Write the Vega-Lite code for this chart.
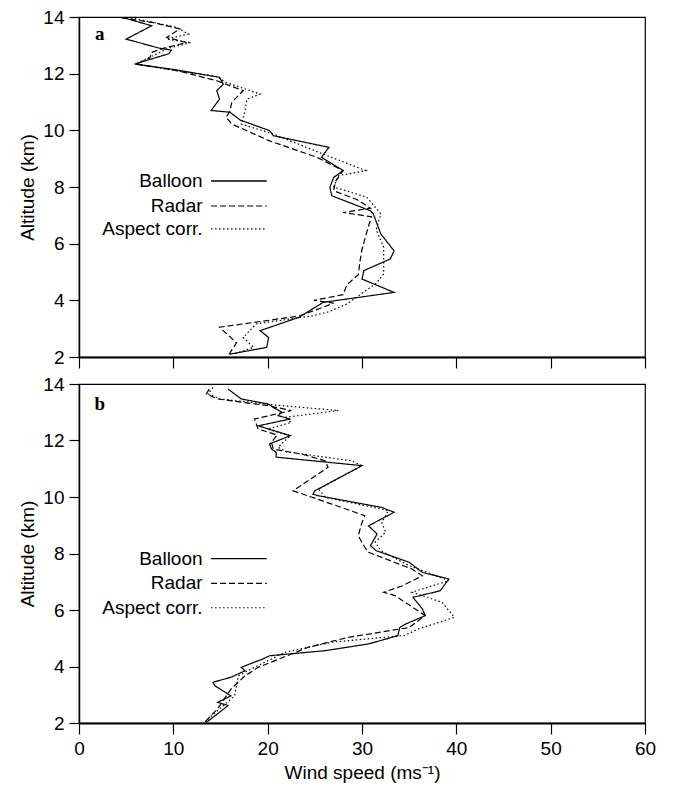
{
  "$schema": "https://vega.github.io/schema/vega-lite/v6.json",
  "padding": {"left": 18, "top": 7, "right": 5, "bottom": 2},
  "background": "white",
  "config": {
    "view": {"stroke": "black", "strokeWidth": 1.2},
    "font": "Liberation Sans",
    "axis": {
      "domainColor": "black", "domainWidth": 1.5, "tickColor": "black", "tickWidth": 1.2,
      "labelColor": "black", "titleColor": "black",
      "labelFont": "Liberation Sans", "titleFont": "Liberation Sans",
      "labelFontSize": 19, "titleFontSize": 19, "titleFontWeight": "normal",
      "grid": false, "labelFlush": false, "labelOverlap": false
    }
  },
  "datasets": {
    "profiles": [
      {"panel":"a","series":"Balloon","alt":13.97,"speed":4.8},
      {"panel":"a","series":"Balloon","alt":13.69,"speed":7.7},
      {"panel":"a","series":"Balloon","alt":13.22,"speed":5.0},
      {"panel":"a","series":"Balloon","alt":12.90,"speed":8.5},
      {"panel":"a","series":"Balloon","alt":12.83,"speed":9.8},
      {"panel":"a","series":"Balloon","alt":12.70,"speed":9.5},
      {"panel":"a","series":"Balloon","alt":12.34,"speed":5.9},
      {"panel":"a","series":"Balloon","alt":12.15,"speed":10.0},
      {"panel":"a","series":"Balloon","alt":11.87,"speed":14.9},
      {"panel":"a","series":"Balloon","alt":11.63,"speed":15.3},
      {"panel":"a","series":"Balloon","alt":11.40,"speed":14.6},
      {"panel":"a","series":"Balloon","alt":11.10,"speed":14.9},
      {"panel":"a","series":"Balloon","alt":10.70,"speed":14.0},
      {"panel":"a","series":"Balloon","alt":10.64,"speed":16.0},
      {"panel":"a","series":"Balloon","alt":10.36,"speed":17.1},
      {"panel":"a","series":"Balloon","alt":9.99,"speed":20.2},
      {"panel":"a","series":"Balloon","alt":9.81,"speed":20.6},
      {"panel":"a","series":"Balloon","alt":9.40,"speed":26.5},
      {"panel":"a","series":"Balloon","alt":9.05,"speed":25.7},
      {"panel":"a","series":"Balloon","alt":8.58,"speed":28.0},
      {"panel":"a","series":"Balloon","alt":8.34,"speed":27.0},
      {"panel":"a","series":"Balloon","alt":7.99,"speed":26.6},
      {"panel":"a","series":"Balloon","alt":7.69,"speed":26.8},
      {"panel":"a","series":"Balloon","alt":7.16,"speed":30.9},
      {"panel":"a","series":"Balloon","alt":7.05,"speed":31.2},
      {"panel":"a","series":"Balloon","alt":6.34,"speed":32.0},
      {"panel":"a","series":"Balloon","alt":5.75,"speed":33.4},
      {"panel":"a","series":"Balloon","alt":5.46,"speed":33.0},
      {"panel":"a","series":"Balloon","alt":5.05,"speed":30.2},
      {"panel":"a","series":"Balloon","alt":4.75,"speed":30.0},
      {"panel":"a","series":"Balloon","alt":4.28,"speed":33.4},
      {"panel":"a","series":"Balloon","alt":3.93,"speed":25.9},
      {"panel":"a","series":"Balloon","alt":3.40,"speed":23.3},
      {"panel":"a","series":"Balloon","alt":2.93,"speed":19.2},
      {"panel":"a","series":"Balloon","alt":2.69,"speed":20.1},
      {"panel":"a","series":"Balloon","alt":2.34,"speed":19.9},
      {"panel":"a","series":"Balloon","alt":2.10,"speed":16.0},

      {"panel":"a","series":"Radar","alt":13.97,"speed":4.5},
      {"panel":"a","series":"Radar","alt":13.80,"speed":7.9},
      {"panel":"a","series":"Radar","alt":13.58,"speed":10.7},
      {"panel":"a","series":"Radar","alt":13.28,"speed":9.3},
      {"panel":"a","series":"Radar","alt":13.10,"speed":11.4},
      {"panel":"a","series":"Radar","alt":12.90,"speed":9.0},
      {"panel":"a","series":"Radar","alt":12.75,"speed":7.7},
      {"panel":"a","series":"Radar","alt":12.55,"speed":7.5},
      {"panel":"a","series":"Radar","alt":12.34,"speed":6.1},
      {"panel":"a","series":"Radar","alt":12.10,"speed":10.5},
      {"panel":"a","series":"Radar","alt":11.75,"speed":14.6},
      {"panel":"a","series":"Radar","alt":11.40,"speed":17.4},
      {"panel":"a","series":"Radar","alt":10.99,"speed":16.2},
      {"panel":"a","series":"Radar","alt":10.69,"speed":16.0},
      {"panel":"a","series":"Radar","alt":10.46,"speed":15.6},
      {"panel":"a","series":"Radar","alt":10.22,"speed":16.2},
      {"panel":"a","series":"Radar","alt":9.63,"speed":20.2},
      {"panel":"a","series":"Radar","alt":9.05,"speed":25.2},
      {"panel":"a","series":"Radar","alt":8.58,"speed":28.0},
      {"panel":"a","series":"Radar","alt":8.20,"speed":27.2},
      {"panel":"a","series":"Radar","alt":7.87,"speed":27.0},
      {"panel":"a","series":"Radar","alt":7.55,"speed":29.5},
      {"panel":"a","series":"Radar","alt":7.25,"speed":30.9},
      {"panel":"a","series":"Radar","alt":7.10,"speed":28.0},
      {"panel":"a","series":"Radar","alt":6.95,"speed":31.0},
      {"panel":"a","series":"Radar","alt":6.40,"speed":30.5},
      {"panel":"a","series":"Radar","alt":5.80,"speed":30.0},
      {"panel":"a","series":"Radar","alt":5.40,"speed":29.8},
      {"panel":"a","series":"Radar","alt":4.90,"speed":29.6},
      {"panel":"a","series":"Radar","alt":4.55,"speed":28.4},
      {"panel":"a","series":"Radar","alt":4.20,"speed":28.0},
      {"panel":"a","series":"Radar","alt":4.00,"speed":24.9},
      {"panel":"a","series":"Radar","alt":3.90,"speed":27.0},
      {"panel":"a","series":"Radar","alt":3.45,"speed":23.4},
      {"panel":"a","series":"Radar","alt":3.05,"speed":14.9},
      {"panel":"a","series":"Radar","alt":2.50,"speed":16.7},
      {"panel":"a","series":"Radar","alt":2.04,"speed":15.8},

      {"panel":"a","series":"Aspect corr.","alt":13.97,"speed":5.5},
      {"panel":"a","series":"Aspect corr.","alt":13.64,"speed":10.3},
      {"panel":"a","series":"Aspect corr.","alt":13.40,"speed":11.6},
      {"panel":"a","series":"Aspect corr.","alt":13.22,"speed":9.3},
      {"panel":"a","series":"Aspect corr.","alt":13.10,"speed":11.9},
      {"panel":"a","series":"Aspect corr.","alt":12.90,"speed":9.5},
      {"panel":"a","series":"Aspect corr.","alt":12.34,"speed":6.0},
      {"panel":"a","series":"Aspect corr.","alt":12.10,"speed":10.5},
      {"panel":"a","series":"Aspect corr.","alt":11.90,"speed":14.6},
      {"panel":"a","series":"Aspect corr.","alt":11.69,"speed":15.6},
      {"panel":"a","series":"Aspect corr.","alt":11.28,"speed":19.2},
      {"panel":"a","series":"Aspect corr.","alt":11.10,"speed":17.8},
      {"panel":"a","series":"Aspect corr.","alt":10.69,"speed":17.6},
      {"panel":"a","series":"Aspect corr.","alt":10.22,"speed":17.2},
      {"panel":"a","series":"Aspect corr.","alt":9.87,"speed":20.6},
      {"panel":"a","series":"Aspect corr.","alt":9.16,"speed":25.9},
      {"panel":"a","series":"Aspect corr.","alt":8.58,"speed":30.4},
      {"panel":"a","series":"Aspect corr.","alt":8.40,"speed":27.5},
      {"panel":"a","series":"Aspect corr.","alt":8.00,"speed":27.0},
      {"panel":"a","series":"Aspect corr.","alt":7.64,"speed":30.5},
      {"panel":"a","series":"Aspect corr.","alt":7.05,"speed":32.0},
      {"panel":"a","series":"Aspect corr.","alt":6.50,"speed":31.5},
      {"panel":"a","series":"Aspect corr.","alt":5.87,"speed":32.3},
      {"panel":"a","series":"Aspect corr.","alt":4.93,"speed":32.3},
      {"panel":"a","series":"Aspect corr.","alt":4.60,"speed":31.5},
      {"panel":"a","series":"Aspect corr.","alt":3.87,"speed":28.4},
      {"panel":"a","series":"Aspect corr.","alt":3.60,"speed":26.5},
      {"panel":"a","series":"Aspect corr.","alt":3.46,"speed":24.9},
      {"panel":"a","series":"Aspect corr.","alt":3.17,"speed":18.8},
      {"panel":"a","series":"Aspect corr.","alt":2.69,"speed":17.4},
      {"panel":"a","series":"Aspect corr.","alt":2.34,"speed":18.5},
      {"panel":"a","series":"Aspect corr.","alt":2.10,"speed":16.4},

      {"panel":"b","series":"Balloon","alt":13.82,"speed":15.8},
      {"panel":"b","series":"Balloon","alt":13.47,"speed":17.2},
      {"panel":"b","series":"Balloon","alt":13.29,"speed":20.1},
      {"panel":"b","series":"Balloon","alt":13.17,"speed":20.6},
      {"panel":"b","series":"Balloon","alt":13.00,"speed":21.5},
      {"panel":"b","series":"Balloon","alt":12.88,"speed":21.1},
      {"panel":"b","series":"Balloon","alt":12.76,"speed":22.4},
      {"panel":"b","series":"Balloon","alt":12.52,"speed":19.0},
      {"panel":"b","series":"Balloon","alt":12.17,"speed":22.4},
      {"panel":"b","series":"Balloon","alt":11.88,"speed":20.2},
      {"panel":"b","series":"Balloon","alt":11.70,"speed":20.4},
      {"panel":"b","series":"Balloon","alt":11.58,"speed":20.9},
      {"panel":"b","series":"Balloon","alt":11.41,"speed":20.9},
      {"panel":"b","series":"Balloon","alt":11.11,"speed":30.0},
      {"panel":"b","series":"Balloon","alt":10.22,"speed":25.0},
      {"panel":"b","series":"Balloon","alt":10.10,"speed":24.8},
      {"panel":"b","series":"Balloon","alt":10.05,"speed":25.3},
      {"panel":"b","series":"Balloon","alt":9.63,"speed":32.1},
      {"panel":"b","series":"Balloon","alt":9.46,"speed":33.4},
      {"panel":"b","series":"Balloon","alt":8.98,"speed":30.7},
      {"panel":"b","series":"Balloon","alt":8.69,"speed":31.6},
      {"panel":"b","series":"Balloon","alt":8.28,"speed":30.9},
      {"panel":"b","series":"Balloon","alt":8.10,"speed":31.5},
      {"panel":"b","series":"Balloon","alt":7.69,"speed":35.0},
      {"panel":"b","series":"Balloon","alt":7.33,"speed":36.4},
      {"panel":"b","series":"Balloon","alt":7.10,"speed":39.2},
      {"panel":"b","series":"Balloon","alt":6.68,"speed":38.3},
      {"panel":"b","series":"Balloon","alt":6.45,"speed":35.4},
      {"panel":"b","series":"Balloon","alt":6.04,"speed":36.4},
      {"panel":"b","series":"Balloon","alt":5.80,"speed":36.7},
      {"panel":"b","series":"Balloon","alt":5.50,"speed":34.6},
      {"panel":"b","series":"Balloon","alt":5.38,"speed":34.0},
      {"panel":"b","series":"Balloon","alt":5.09,"speed":33.8},
      {"panel":"b","series":"Balloon","alt":4.80,"speed":30.7},
      {"panel":"b","series":"Balloon","alt":4.56,"speed":26.1},
      {"panel":"b","series":"Balloon","alt":4.38,"speed":20.2},
      {"panel":"b","series":"Balloon","alt":4.27,"speed":19.5},
      {"panel":"b","series":"Balloon","alt":3.97,"speed":17.2},
      {"panel":"b","series":"Balloon","alt":3.85,"speed":17.6},
      {"panel":"b","series":"Balloon","alt":3.62,"speed":16.1},
      {"panel":"b","series":"Balloon","alt":3.44,"speed":14.2},
      {"panel":"b","series":"Balloon","alt":3.32,"speed":14.4},
      {"panel":"b","series":"Balloon","alt":2.96,"speed":16.1},
      {"panel":"b","series":"Balloon","alt":2.73,"speed":14.7},
      {"panel":"b","series":"Balloon","alt":2.62,"speed":15.8},
      {"panel":"b","series":"Balloon","alt":2.38,"speed":14.9},
      {"panel":"b","series":"Balloon","alt":2.02,"speed":13.5},

      {"panel":"b","series":"Radar","alt":13.82,"speed":13.8},
      {"panel":"b","series":"Radar","alt":13.65,"speed":13.5},
      {"panel":"b","series":"Radar","alt":13.47,"speed":14.7},
      {"panel":"b","series":"Radar","alt":13.23,"speed":20.1},
      {"panel":"b","series":"Radar","alt":13.06,"speed":22.5},
      {"panel":"b","series":"Radar","alt":12.76,"speed":18.6},
      {"panel":"b","series":"Radar","alt":12.40,"speed":19.0},
      {"panel":"b","series":"Radar","alt":12.20,"speed":21.0},
      {"panel":"b","series":"Radar","alt":11.93,"speed":20.4},
      {"panel":"b","series":"Radar","alt":11.70,"speed":20.6},
      {"panel":"b","series":"Radar","alt":11.64,"speed":21.5},
      {"panel":"b","series":"Radar","alt":11.52,"speed":23.6},
      {"panel":"b","series":"Radar","alt":11.28,"speed":26.1},
      {"panel":"b","series":"Radar","alt":11.05,"speed":26.4},
      {"panel":"b","series":"Radar","alt":10.22,"speed":22.7},
      {"panel":"b","series":"Radar","alt":9.75,"speed":26.8},
      {"panel":"b","series":"Radar","alt":9.34,"speed":30.3},
      {"panel":"b","series":"Radar","alt":9.10,"speed":30.0},
      {"panel":"b","series":"Radar","alt":8.63,"speed":29.6},
      {"panel":"b","series":"Radar","alt":8.22,"speed":30.3},
      {"panel":"b","series":"Radar","alt":8.04,"speed":30.7},
      {"panel":"b","series":"Radar","alt":7.45,"speed":35.3},
      {"panel":"b","series":"Radar","alt":7.21,"speed":36.4},
      {"panel":"b","series":"Radar","alt":6.86,"speed":34.3},
      {"panel":"b","series":"Radar","alt":6.63,"speed":32.3},
      {"panel":"b","series":"Radar","alt":6.51,"speed":33.5},
      {"panel":"b","series":"Radar","alt":5.80,"speed":36.7},
      {"panel":"b","series":"Radar","alt":5.38,"speed":35.0},
      {"panel":"b","series":"Radar","alt":5.03,"speed":28.5},
      {"panel":"b","series":"Radar","alt":4.68,"speed":24.3},
      {"panel":"b","series":"Radar","alt":3.97,"speed":19.0},
      {"panel":"b","series":"Radar","alt":3.67,"speed":17.6},
      {"panel":"b","series":"Radar","alt":3.20,"speed":16.1},
      {"panel":"b","series":"Radar","alt":2.50,"speed":14.7},
      {"panel":"b","series":"Radar","alt":2.02,"speed":13.3},

      {"panel":"b","series":"Aspect corr.","alt":13.88,"speed":14.2},
      {"panel":"b","series":"Aspect corr.","alt":13.65,"speed":13.7},
      {"panel":"b","series":"Aspect corr.","alt":13.47,"speed":15.0},
      {"panel":"b","series":"Aspect corr.","alt":13.25,"speed":21.0},
      {"panel":"b","series":"Aspect corr.","alt":13.06,"speed":27.5},
      {"panel":"b","series":"Aspect corr.","alt":12.82,"speed":21.8},
      {"panel":"b","series":"Aspect corr.","alt":12.64,"speed":22.5},
      {"panel":"b","series":"Aspect corr.","alt":12.40,"speed":20.0},
      {"panel":"b","series":"Aspect corr.","alt":12.17,"speed":22.4},
      {"panel":"b","series":"Aspect corr.","alt":11.76,"speed":21.1},
      {"panel":"b","series":"Aspect corr.","alt":11.60,"speed":22.0},
      {"panel":"b","series":"Aspect corr.","alt":11.28,"speed":28.9},
      {"panel":"b","series":"Aspect corr.","alt":11.11,"speed":30.0},
      {"panel":"b","series":"Aspect corr.","alt":10.28,"speed":25.4},
      {"panel":"b","series":"Aspect corr.","alt":9.99,"speed":26.1},
      {"panel":"b","series":"Aspect corr.","alt":9.52,"speed":32.8},
      {"panel":"b","series":"Aspect corr.","alt":9.10,"speed":32.1},
      {"panel":"b","series":"Aspect corr.","alt":8.75,"speed":32.5},
      {"panel":"b","series":"Aspect corr.","alt":8.40,"speed":31.4},
      {"panel":"b","series":"Aspect corr.","alt":8.10,"speed":32.0},
      {"panel":"b","series":"Aspect corr.","alt":7.57,"speed":35.0},
      {"panel":"b","series":"Aspect corr.","alt":7.04,"speed":39.2},
      {"panel":"b","series":"Aspect corr.","alt":6.63,"speed":35.3},
      {"panel":"b","series":"Aspect corr.","alt":6.27,"speed":38.5},
      {"panel":"b","series":"Aspect corr.","alt":5.74,"speed":39.8},
      {"panel":"b","series":"Aspect corr.","alt":5.33,"speed":36.0},
      {"panel":"b","series":"Aspect corr.","alt":5.10,"speed":34.5},
      {"panel":"b","series":"Aspect corr.","alt":4.86,"speed":26.8},
      {"panel":"b","series":"Aspect corr.","alt":4.50,"speed":21.8},
      {"panel":"b","series":"Aspect corr.","alt":3.97,"speed":18.6},
      {"panel":"b","series":"Aspect corr.","alt":3.67,"speed":16.9},
      {"panel":"b","series":"Aspect corr.","alt":2.96,"speed":16.5},
      {"panel":"b","series":"Aspect corr.","alt":2.24,"speed":14.0},
      {"panel":"b","series":"Aspect corr.","alt":2.02,"speed":13.3}
    ]
  },
  "bounds": "flush",
  "spacing": 27,
  "vconcat": [
    {
      "width": 566, "height": 340,
      "layer": [
        {
          "data": {"name": "profiles"},
          "transform": [{"filter": "datum.panel === 'a'"}],
          "mark": {"type": "line", "color": "black", "strokeWidth": 1.2, "clip": true},
          "encoding": {
            "x": {"field": "speed", "type": "quantitative", "scale": {"domain": [0, 60], "nice": false},
                  "axis": {"values": [0,10,20,30,40,50,60], "labels": false, "title": null, "tickSize": 11, "domainWidth": 2.2}},
            "y": {"field": "alt", "type": "quantitative", "scale": {"domain": [2, 14], "nice": false, "zero": false},
                  "axis": {"values": [2,4,6,8,10,12,14], "title": "Altitude (km)", "tickSize": 10, "labelPadding": 5, "titlePadding": 5}},
            "strokeDash": {"field": "series", "type": "nominal",
                           "scale": {"domain": ["Balloon","Radar","Aspect corr."], "range": [[1,0],[6,3],[1.5,2.5]]},
                           "legend": null},
            "order": {"field": "alt", "sort": "descending"}
          }
        },
        {"data": {"values": [{}]}, "mark": {"type": "text", "text": "a", "font": "Liberation Serif", "fontWeight": "bold", "fontSize": 19, "align": "center", "baseline": "middle"},
         "encoding": {"x": {"datum": 2.2}, "y": {"datum": 13.4}}},
        {"data": {"values": [{}]}, "mark": {"type": "text", "text": "Balloon", "fontSize": 19, "align": "right", "baseline": "middle"},
         "encoding": {"x": {"datum": 13.1}, "y": {"datum": 8.21}}},
        {"data": {"values": [{}]}, "mark": {"type": "text", "text": "Radar", "fontSize": 19, "align": "right", "baseline": "middle"},
         "encoding": {"x": {"datum": 13.1}, "y": {"datum": 7.33}}},
        {"data": {"values": [{}]}, "mark": {"type": "text", "text": "Aspect corr.", "fontSize": 19, "align": "right", "baseline": "middle"},
         "encoding": {"x": {"datum": 13.1}, "y": {"datum": 6.52}}},
        {"data": {"values": [{}]}, "mark": {"type": "rule", "color": "black", "strokeWidth": 1.4},
         "encoding": {"x": {"datum": 14.0}, "x2": {"datum": 19.9}, "y": {"datum": 8.21}}},
        {"data": {"values": [{}]}, "mark": {"type": "rule", "color": "black", "strokeWidth": 1.2, "strokeDash": [6, 3]},
         "encoding": {"x": {"datum": 14.0}, "x2": {"datum": 19.9}, "y": {"datum": 7.33}}},
        {"data": {"values": [{}]}, "mark": {"type": "rule", "color": "black", "strokeWidth": 1.2, "strokeDash": [1.5, 2.5]},
         "encoding": {"x": {"datum": 14.0}, "x2": {"datum": 19.9}, "y": {"datum": 6.52}}}
      ]
    },
    {
      "width": 566, "height": 339,
      "layer": [
        {
          "data": {"name": "profiles"},
          "transform": [{"filter": "datum.panel === 'b'"}],
          "mark": {"type": "line", "color": "black", "strokeWidth": 1.2, "clip": true},
          "encoding": {
            "x": {"field": "speed", "type": "quantitative", "scale": {"domain": [0, 60], "nice": false},
                  "axis": {"values": [0,10,20,30,40,50,60], "title": "Wind speed (ms⁻¹)", "tickSize": 11, "labelPadding": 5, "titlePadding": 5, "domainWidth": 2.2}},
            "y": {"field": "alt", "type": "quantitative", "scale": {"domain": [2, 14], "nice": false, "zero": false},
                  "axis": {"values": [2,4,6,8,10,12,14], "title": "Altitude (km)", "tickSize": 10, "labelPadding": 5, "titlePadding": 5}},
            "strokeDash": {"field": "series", "type": "nominal",
                           "scale": {"domain": ["Balloon","Radar","Aspect corr."], "range": [[1,0],[6,3],[1.5,2.5]]},
                           "legend": null},
            "order": {"field": "alt", "sort": "descending"}
          }
        },
        {"data": {"values": [{}]}, "mark": {"type": "text", "text": "b", "font": "Liberation Serif", "fontWeight": "bold", "fontSize": 19, "align": "center", "baseline": "middle"},
         "encoding": {"x": {"datum": 2.2}, "y": {"datum": 13.3}}},
        {"data": {"values": [{}]}, "mark": {"type": "text", "text": "Balloon", "fontSize": 19, "align": "right", "baseline": "middle"},
         "encoding": {"x": {"datum": 13.1}, "y": {"datum": 7.82}}},
        {"data": {"values": [{}]}, "mark": {"type": "text", "text": "Radar", "fontSize": 19, "align": "right", "baseline": "middle"},
         "encoding": {"x": {"datum": 13.1}, "y": {"datum": 6.94}}},
        {"data": {"values": [{}]}, "mark": {"type": "text", "text": "Aspect corr.", "fontSize": 19, "align": "right", "baseline": "middle"},
         "encoding": {"x": {"datum": 13.1}, "y": {"datum": 6.08}}},
        {"data": {"values": [{}]}, "mark": {"type": "rule", "color": "black", "strokeWidth": 1.4},
         "encoding": {"x": {"datum": 14.0}, "x2": {"datum": 19.9}, "y": {"datum": 7.82}}},
        {"data": {"values": [{}]}, "mark": {"type": "rule", "color": "black", "strokeWidth": 1.2, "strokeDash": [6, 3]},
         "encoding": {"x": {"datum": 14.0}, "x2": {"datum": 19.9}, "y": {"datum": 6.94}}},
        {"data": {"values": [{}]}, "mark": {"type": "rule", "color": "black", "strokeWidth": 1.2, "strokeDash": [1.5, 2.5]},
         "encoding": {"x": {"datum": 14.0}, "x2": {"datum": 19.9}, "y": {"datum": 6.08}}}
      ]
    }
  ]
}
